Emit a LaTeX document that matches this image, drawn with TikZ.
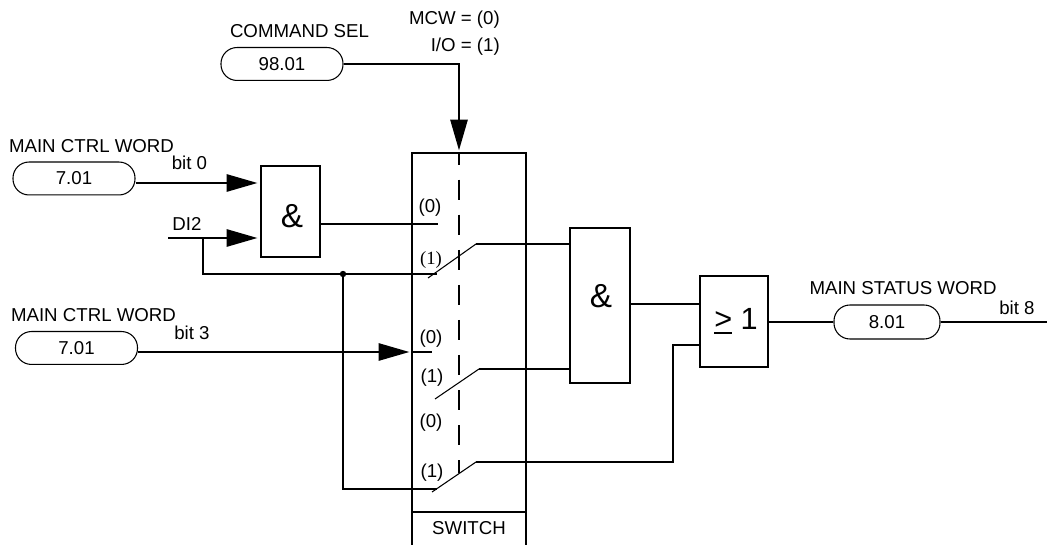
\documentclass[tikz,border=0pt]{standalone}
\usepackage{fontspec}
\setmainfont{Liberation Sans}
\newfontfamily\serifnum{Liberation Serif}
\usetikzlibrary{arrows.meta,positioning,calc}
\tikzset{
  sig/.style={line width=1.2pt},
  thinsig/.style={line width=.8pt},
  flow/.style={sig,-{Triangle[length=23pt,width=13pt]},shorten >=2pt},
  pill/.style={draw,line width=.8pt,rounded corners=12pt,minimum width=91.5pt,minimum height=24.7pt,inner sep=0pt},
  gate/.style={draw,line width=1.2pt,inner sep=0pt},
  lbl/.style={inner sep=0pt},
  big/.style={inner sep=0pt,font=\fontsize{23}{26}\selectfont},
  bigamp/.style={inner sep=0pt,font=\fontsize{25}{28}\selectfont}
}
\begin{document}
\begin{tikzpicture}[x=.75pt,y=-.75pt,font=\fontsize{14}{16}\selectfont]
\useasboundingbox (0,0) rectangle (1047,545);
% parameter boxes
\node[pill] (sel) at (282,64) {98.01};
\node[pill] (wordA) at (74,178.5) {7.01};
\node[pill] (wordB) at (76.5,348) {7.01};
\node[pill,minimum width=79.5pt,minimum height=25.5pt] (status) at (887,322) {8.01};
\node[lbl] (selname) at (299.5,31) {COMMAND SEL};
\node[lbl] (wordAname) at (91.5,146) {MAIN CTRL WORD};
\node[lbl] (wordBname) at (93.5,315) {MAIN CTRL WORD};
\node[lbl] (statusname) at (903,288) {MAIN STATUS WORD};
\node[lbl,anchor=east] (mcw) at (500,20) {MCW = (0)};
\node[lbl,anchor=east] (io) at (500,47) {I/O = (1)};
\node[lbl] (bitA) at (189.5,163) {bit 0};
\node[lbl] (bitB) at (192,333) {bit 3};
\node[lbl] (bitC) at (1017,308) {bit 8};
\node[lbl] (di) at (187,224) {DI2};
% gates
\node[gate,minimum width=44.5pt,minimum height=68.2pt] (andA) at (290.5,211.5) {};
\node[bigamp] (andAsym) at (292,216) {\&};
\node[gate,minimum width=45pt,minimum height=116pt] (andB) at (600,305.5) {};
\node[bigamp] (andBsym) at (601,296) {\&};
\node[gate,minimum width=51pt,minimum height=68pt] (orgate) at (734,321.5) {};
\node[big] (orsym) at (736,321) {\rlap{\rule[-3.2pt]{13.5pt}{1.2pt}}> 1};
% switch frame
\draw[sig] (412,545)--(412,153)--(526,153)--(526,545);
\draw[sig] (412,512)--(527,512);
\node[lbl] (swname) at (469,528) {SWITCH};
\draw[sig,dash pattern=on 15pt off 11.3pt,dash phase=6.3pt] (459,153)--(459,473);
% contacts
\node[lbl] (cA) at (430,208) {(0)};
\node[lbl,font=\serifnum\fontsize{14}{16}\selectfont] (cB) at (431,260) {(1)};
\node[lbl] (cC) at (431,339) {(0)};
\node[lbl] (cD) at (432,378) {(1)};
\node[lbl] (cE) at (431,423) {(0)};
\node[lbl] (cF) at (432,473) {(1)};
\coordinate (diin) at (168,238);
\coordinate (ditap) at (203,238);
\coordinate (junction) at (343,274);
\coordinate (cmdin) at (459,153);
% connectors
\draw[flow] (sel.east)-|(cmdin);
\draw[flow] ($(wordA.east)+(0,4.5)$)--(andA.west|-0,183);
\draw[flow] (diin)--(andA.west|-diin);
\draw[sig] (ditap)|-(junction);
\draw[sig] (junction)--(437,274);
\draw[sig] (junction)|-(437,489);
\draw[flow] ($(wordB.east)+(0,4)$)--(412,352);
\draw[sig] (412,352)--(432,352);
\draw[sig] (andA.east|-0,224)--(438,224);
\draw[thinsig] (428,278)--(476,244);
\draw[sig] (476,244)--(andB.west|-0,244);
\draw[thinsig] (435,399)--(479,369);
\draw[sig] (479,369)--(andB.west|-0,369);
\draw[thinsig] (432,492)--(476,462);
\draw[sig] (476,462)-|(673,345)--(orgate.west|-0,345);
\draw[sig] (andB.east|-0,304)--(orgate.west|-0,304);
\draw[sig] (orgate.east|-status)--(status.west);
\draw[sig] (status.east)--(1047,322);
\fill (junction) circle (3.2);
\end{tikzpicture}
\end{document}
